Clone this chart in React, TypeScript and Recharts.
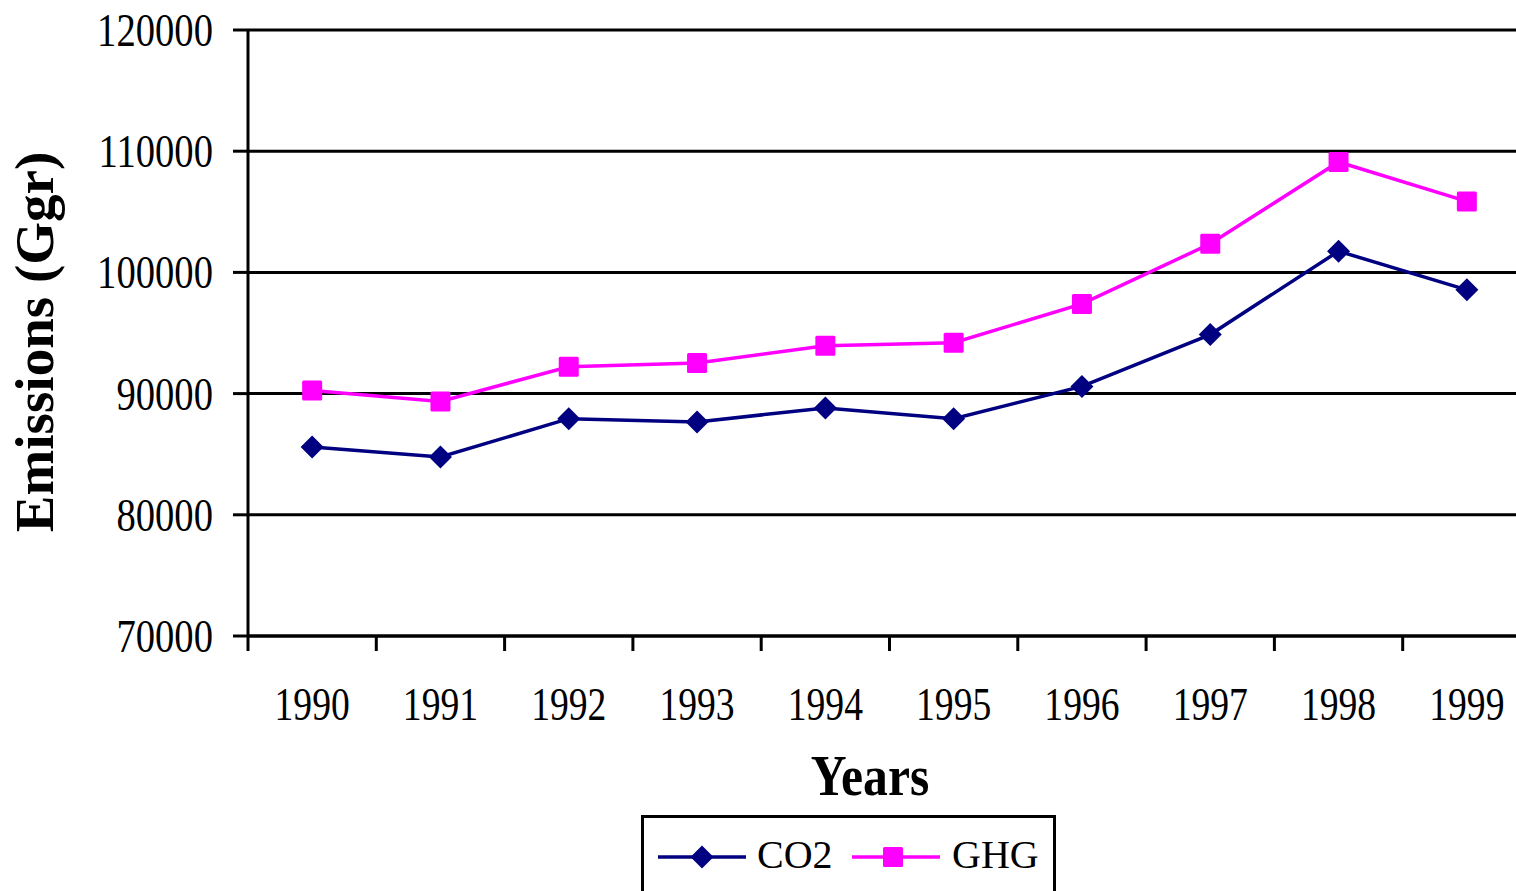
import { LineChart, Line, XAxis, YAxis, CartesianGrid, Legend, Label } from 'recharts'

const YEARS = ['1990', '1991', '1992', '1993', '1994', '1995', '1996', '1997', '1998', '1999']
const CO2 = [85600, 84770, 87930, 87660, 88820, 87930, 90590, 94870, 101750, 98560]
const GHG = [90250, 89350, 92220, 92520, 93950, 94200, 97400, 102360, 109110, 105860]
const Y_TICKS = [70000, 80000, 90000, 100000, 110000, 120000]
const X_BOUNDS = [0, 1, 2, 3, 4, 5, 6, 7, 8, 9, 10]

const FONT = '"Liberation Serif", "Times New Roman", serif'
const NAVY = '#000080'
const MAGENTA = '#ff00ff'

const W = 1545
const H = 891
const HALF_CAT = (W - 14 - 248) / 20

const data = YEARS.map((y, i) => ({ pos: i + 0.5, year: y, CO2: CO2[i], GHG: GHG[i] }))

const diamond = (cx: number, cy: number, key?: any) => {
  const r = 11.5
  return <polygon key={key} points={`${cx},${cy - r} ${cx + r},${cy} ${cx},${cy + r} ${cx - r},${cy}`} fill={NAVY} />
}

const square = (cx: number, cy: number, key?: any) => (
  <rect key={key} x={cx - 10} y={cy - 10} width={20} height={20} rx={1.5} fill={MAGENTA} />
)

const YTick = ({ x, y, payload }: any) => (
  <text transform={`translate(${x + 2},${y + 16}) scale(0.84,1)`} textAnchor="end" fontFamily={FONT} fontSize={46} fill="#000">
    {payload.value}
  </text>
)

const XTick = ({ x, y, payload }: any) => {
  if (payload.value >= YEARS.length) return null
  return (
    <text transform={`translate(${x + HALF_CAT},${y + 69}) scale(0.8,1)`} textAnchor="middle" fontFamily={FONT} fontSize={47} fill="#000">
      {YEARS[payload.value]}
    </text>
  )
}

const LegendBox = () => (
  <div style={{ width: 415, height: 100, border: '3px solid #000', boxSizing: 'border-box', background: '#fff' }}>
    <svg width={409} height={94}>
      <line x1={14} x2={102} y1={39} y2={39} stroke={NAVY} strokeWidth={3.5} />
      {diamond(58, 39)}
      <text x={113} y={50} fontFamily={FONT} fontSize={40} fill="#000">CO2</text>
      <line x1={208} x2={296} y1={39} y2={39} stroke={MAGENTA} strokeWidth={3.5} />
      {square(249, 39)}
      <text x={308} y={50} fontFamily={FONT} fontSize={40} fill="#000">GHG</text>
    </svg>
  </div>
)

export default function App() {
  return (
    <div style={{ position: 'absolute', left: 0, top: 0, width: 1516, height: 891, overflow: 'hidden', background: '#fff' }}>
      <LineChart width={W} height={H} data={data} margin={{ top: 30, right: 14, bottom: 195, left: 0 }}>
        <CartesianGrid vertical={false} stroke="#000" strokeWidth={3} strokeOpacity={1} />
        <XAxis
          dataKey="pos"
          type="number"
          domain={[0, 10]}
          ticks={X_BOUNDS}
          interval={0}
          height={60}
          tickSize={15}
          tickMargin={0}
          tick={<XTick />}
          axisLine={{ stroke: '#000', strokeWidth: 3 }}
          tickLine={{ stroke: '#000', strokeWidth: 3 }}
        >
          <Label
            content={() => (
              <text transform="translate(870,795) scale(0.87,1)" textAnchor="middle" fontFamily={FONT} fontWeight="bold" fontSize={57} fill="#000">
                Years
              </text>
            )}
          />
        </XAxis>
        <YAxis
          type="number"
          domain={[70000, 120000]}
          ticks={Y_TICKS}
          interval={0}
          width={248}
          tickSize={15}
          tickMargin={22}
          tick={<YTick />}
          axisLine={{ stroke: '#000', strokeWidth: 3 }}
          tickLine={{ stroke: '#000', strokeWidth: 3 }}
        >
          <Label
            content={() => (
              <text transform="translate(53,342) rotate(-90)" textAnchor="middle" fontFamily={FONT} fontWeight="bold" fontSize={55} fill="#000">
                Emissions (Ggr)
              </text>
            )}
          />
        </YAxis>
        <Legend
          layout="horizontal"
          verticalAlign="middle"
          align="center"
          content={() => <LegendBox />}
          wrapperStyle={{ left: 641, top: 815, width: 415, height: 100 }}
        />
        <Line
          type="linear"
          dataKey="CO2"
          stroke={NAVY}
          strokeWidth={3.5}
          dot={(p: any) => diamond(p.cx, p.cy, `co2-${p.index}`)}
          activeDot={false}
          isAnimationActive={false}
        />
        <Line
          type="linear"
          dataKey="GHG"
          stroke={MAGENTA}
          strokeWidth={3.5}
          dot={(p: any) => square(p.cx, p.cy, `ghg-${p.index}`)}
          activeDot={false}
          isAnimationActive={false}
        />
      </LineChart>
    </div>
  )
}
